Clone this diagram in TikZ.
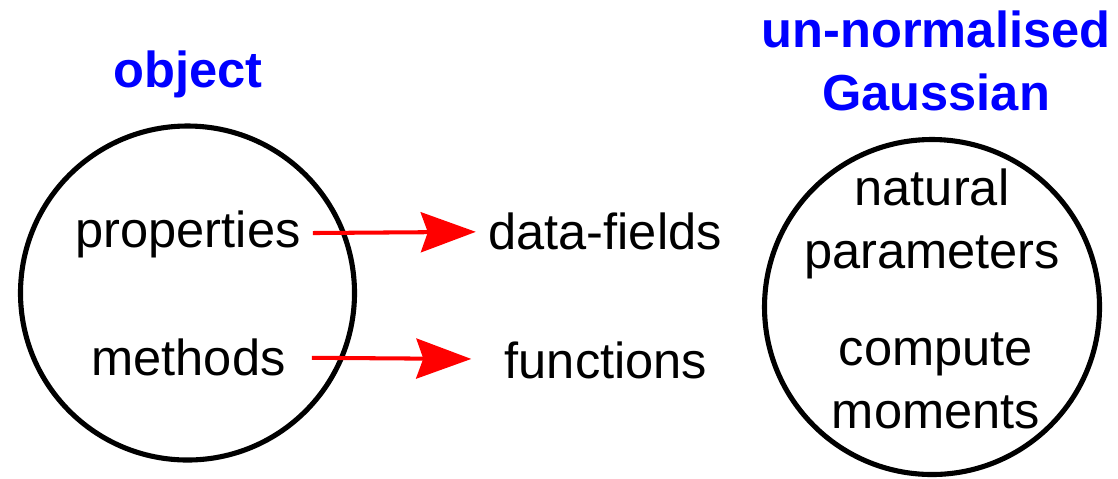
\documentclass[tikz,border=0pt]{standalone}
\usepackage{fontspec}
\setmainfont{Liberation Sans}
\usetikzlibrary{arrows.meta}

\tikzset{
  txt/.style={anchor=base, align=center, font=\fontsize{14.4}{17.9}\selectfont},
  title/.style={txt, text=blue, font=\fontsize{14.4}{17.9}\selectfont\bfseries},
  ring/.style={line width=1.45pt},
  maps/.style={red, line width=1.15pt, -{Stealth[length=5.5mm, width=4mm, inset=0.7mm]}}
}

\begin{document}
\begin{tikzpicture}

\useasboundingbox (0,0) rectangle (11.18,4.78);

% object
\draw [ring] (1.875,1.85) circle [radius=1.67];
\node [title] (obj) at (1.88,3.91) {object};
\node [txt] (props) at (1.88,2.31) {properties};
\node [txt] (meth) at (1.885,1.03) {methods};

% what they become
\node [txt] (fields) at (6.05,2.29) {data-fields};
\node [txt] (funcs) at (6.06,1.00) {functions};
\draw [maps] (props) -- (fields);
\draw [maps, shorten <=0.14cm, shorten >=0.21cm] (meth) -- (funcs);

% gaussian (base = last line)
\draw [ring] (9.32,1.71) circle [radius=1.675];
\node [title] (gauss) at (9.36,3.68) {un-normalised\\Gaussian};
\node [txt] (natpar) at (9.32,2.10) {natural\\parameters};
\node [txt] (moms) at (9.36,0.50) {compute\\moments};

\end{tikzpicture}
\end{document}
